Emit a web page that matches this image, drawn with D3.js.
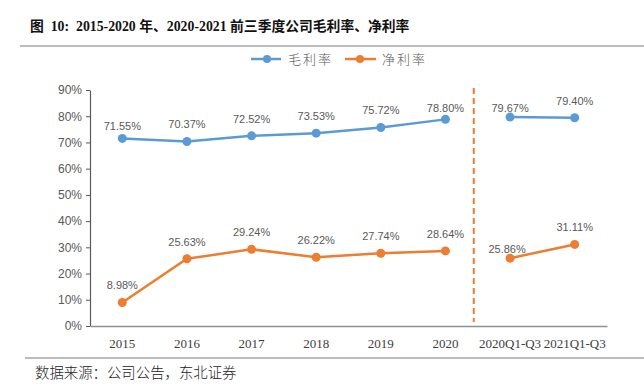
<!DOCTYPE html>
<html><head><meta charset="utf-8">
<script src="https://cdn.jsdelivr.net/npm/d3@7"></script>
<style>body{margin:0;background:#fff}svg{display:block}</style>
</head><body><svg id="c" width="644" height="388"></svg>
<script>
const categories = ["2015","2016","2017","2018","2019","2020","2020Q1-Q3","2021Q1-Q3"];
const grossMargin = [71.55,70.37,72.52,73.53,75.72,78.80,79.67,79.40];
const netMargin = [8.98,25.63,29.24,26.22,27.74,28.64,25.86,31.11];
const yTicks = [0,10,20,30,40,50,60,70,80,90];
const seriesNames = ["毛利率","净利率"];
const titleText = "图  10:  2015-2020 年、2020-2021 前三季度公司毛利率、净利率";
const sourceText = "数据来源：公司公告，东北证券";

(function(){
const svg = d3.select("#c");
const colors = ["#5B9BD5","#ED7D31"];
const pL = 90, pR = 607, pT = 90, pB = 326;

// title
svg.append("text").attr("x",30).attr("y",31)
  .attr("font-family","'Liberation Serif','Noto Sans CJK SC'").attr("font-weight","bold")
  .attr("font-size",13.8).attr("fill","#111").attr("xml:space","preserve").text(titleText);
svg.append("line").attr("x1",20).attr("x2",644).attr("y1",46).attr("y2",46)
  .attr("stroke","#a6a6a6").attr("stroke-width",1.5);

const x = d3.scaleBand().domain(categories).range([pL,pR]);
const y = d3.scaleLinear().domain([0,90]).range([pB,pT]);

// y axis
const ya = svg.append("g").attr("transform",`translate(${pL},0)`)
  .call(d3.axisLeft(y).tickValues(yTicks).tickFormat(d=>d+"%").tickSize(4).tickSizeOuter(0));
ya.select(".domain").attr("stroke","#595959").attr("stroke-width",1.2);
ya.selectAll(".tick line").attr("stroke","#595959");
ya.selectAll(".tick text").attr("font-family","'Liberation Sans',Arial").attr("font-size",12)
  .attr("fill","#595959").attr("x",-8);

// x axis
const xa = svg.append("g").attr("transform",`translate(0,${pB})`)
  .call(d3.axisBottom(x).tickSize(0).tickSizeOuter(0));
xa.select(".domain").attr("stroke","#909090").attr("stroke-width",1.5);
xa.selectAll(".tick text").attr("font-family","'Liberation Serif','Times New Roman'")
  .attr("font-size",13).attr("fill","#404040").attr("dy","1.45em");

// dashed separator
const sepX = x(categories[6]) - 4;
svg.append("line").attr("x1",sepX).attr("x2",sepX).attr("y1",88).attr("y2",322)
  .attr("stroke","#ED7D31").attr("stroke-width",2).attr("stroke-dasharray","6,4");

// lines
const segs = [[0,6],[6,8]];
const cx = i => x(categories[i]) + x.bandwidth()/2;
const offsets = [
  {0:-12,5:-11,6:-9,7:-17},
  {6:-9}
];
[grossMargin, netMargin].forEach((vals, s) => {
  const line = d3.line().x(d=>cx(d)).y(d=>y(vals[d]));
  segs.forEach(([a,b]) => {
    svg.append("path").datum(d3.range(a,b)).attr("d",line).attr("fill","none")
      .attr("stroke",colors[s]).attr("stroke-width",2.5);
  });
  svg.append("g").selectAll("circle").data(vals).join("circle")
    .attr("cx",(d,i)=>cx(i)).attr("cy",d=>y(d)).attr("r",4.5).attr("fill",colors[s]);
  svg.append("g").selectAll("text").data(vals).join("text")
    .attr("x",(d,i)=>cx(i) - (s===1&&i===6?3:0))
    .attr("y",(d,i)=>y(d) + (offsets[s][i] !== undefined ? offsets[s][i] : -17) + 4)
    .attr("text-anchor","middle").attr("font-family","'Liberation Sans',Arial")
    .attr("font-size",11).attr("fill","#595959").text(d=>d.toFixed(2)+"%");
});

// legend
const lg = [[251,281,267,288],[345,376,360,382]];
seriesNames.forEach((n,s)=>{
  const [a,b,c,t] = lg[s];
  svg.append("line").attr("x1",a).attr("x2",b).attr("y1",59).attr("y2",59)
    .attr("stroke",colors[s]).attr("stroke-width",2.5);
  svg.append("circle").attr("cx",c).attr("cy",59).attr("r",4).attr("fill",colors[s]);
  svg.append("text").attr("x",t).attr("y",64).attr("font-family","'Noto Sans CJK SC'")
    .attr("font-size",13).attr("font-weight",300).attr("fill","#595959").attr("letter-spacing",2).text(n);
});

// bottom rule & source
svg.append("line").attr("x1",25).attr("x2",644).attr("y1",358).attr("y2",358)
  .attr("stroke","#a6a6a6").attr("stroke-width",1.5);
svg.append("text").attr("x",35).attr("y",378).attr("font-family","'Noto Sans CJK SC'")
  .attr("font-size",14.4).attr("font-weight",300).attr("fill","#222").text(sourceText);
})();
</script></body></html>
